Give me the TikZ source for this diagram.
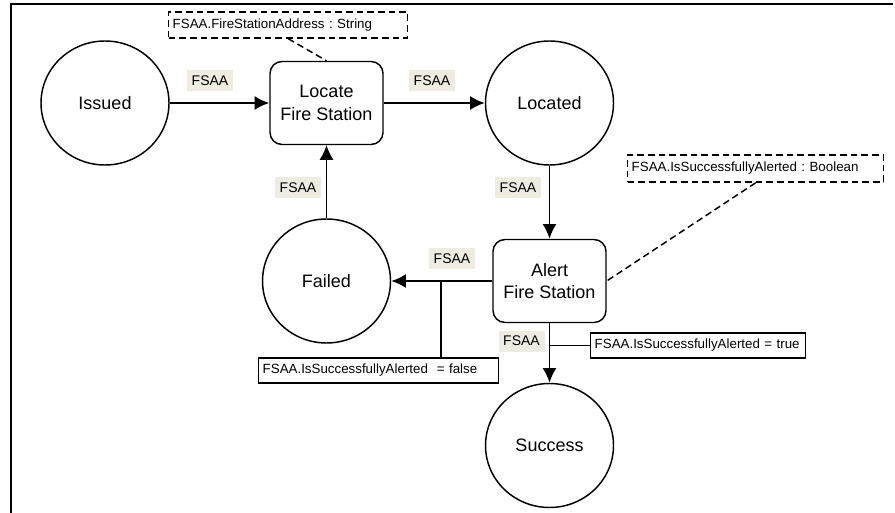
\documentclass[tikz,border=0pt]{standalone}
\usepackage{fontspec}
\setmainfont{Liberation Sans}
\usetikzlibrary{arrows.meta,shapes.geometric}
\definecolor{labelbg}{RGB}{238,236,225}
\frenchspacing

\begin{document}
\begin{tikzpicture}[x=0.75pt,y=-0.75pt,>={Latex[length=11pt,width=10.5pt]},
  state/.style={draw,ellipse,line width=1.1pt,minimum width=96pt,minimum height=93pt,inner sep=0pt,font=\fontsize{13.5}{17}\selectfont},
  activity/.style={draw,rounded corners=9pt,line width=1.1pt,align=center,minimum width=84.75pt,minimum height=62.25pt,font=\fontsize{13.5}{17}\selectfont},
  flowlabel/.style={fill=labelbg,inner sep=0pt,minimum width=34.5pt,minimum height=15.75pt,font=\fontsize{10.5}{12}\selectfont},
  guardbox/.style={draw,anchor=west,line width=1.1pt,inner xsep=3pt,inner ysep=0pt,minimum height=18.75pt,align=left,font=\fontsize{10}{12}\selectfont},
  attrnote/.style={guardbox,dash pattern=on 5pt off 3pt},
  flow/.style={->,line width=1.4pt}]
\useasboundingbox (0,0) rectangle (895,513);
% frame
\draw[line width=1.5pt] (11,513) -- (11,4) -- (893,4);
% states and activities
\node[state] (issued) at (105,103) {Issued};
\node[activity] (locate) at (326.5,103) {Locate\\Fire Station};
\node[state] (located) at (549.5,103) {Located};
\node[state] (failed) at (326.5,281) {Failed};
\node[activity] (alert) at (549.5,281) {Alert\\Fire Station};
\node[state] (success) at (549.5,445.5) {Success};
% attribute notes
\node[attrnote,text width=173.25pt,minimum height=19.5pt] (addrnote) at (168,25) {FSAA.FireStationAddress : String};
\node[attrnote,text width=186pt,minimum height=20.25pt] (alertnote) at (627,168.5) {FSAA.IsSuccessfullyAlerted : Boolean};
\draw[line width=1.1pt,dash pattern=on 5pt off 3pt] (addrnote.south) -- (locate.north);
\draw[line width=1.1pt,dash pattern=on 5pt off 3pt] (alertnote.south) -- (alert.east);
% transitions
\draw[flow] (issued) -- (locate);
\draw[flow] (locate) -- (located);
\draw[flow,line width=1pt] (failed) -- (locate);
\draw[flow] (located) -- (alert);
\draw[flow] (alert) -- (failed);
\draw[flow] (alert) -- (success);
\node[flowlabel] (lab1) at (210,81) {FSAA};
\node[flowlabel] (lab2) at (432,81) {FSAA};
\node[flowlabel] (lab3) at (298,188) {FSAA};
\node[flowlabel] (lab4) at (518,188) {FSAA};
\node[flowlabel] (lab5) at (452,258.5) {FSAA};
\node[flowlabel] (lab6) at (521.5,341) {FSAA};
% guards
\node[guardbox,text width=174pt] (falseguard) at (258,370.5) {FSAA.IsSuccessfullyAlerted\ \ = false};
\node[guardbox,text width=155.25pt] (trueguard) at (590,345.5) {FSAA.IsSuccessfullyAlerted = true};
\coordinate (fb) at (441,281);
\coordinate (tb) at (alert.south |- trueguard.west);
\draw[line width=1.4pt] (fb) -- (fb |- falseguard.north);
\draw[line width=1.4pt] (tb) -- (trueguard.west);
\end{tikzpicture}
\end{document}
